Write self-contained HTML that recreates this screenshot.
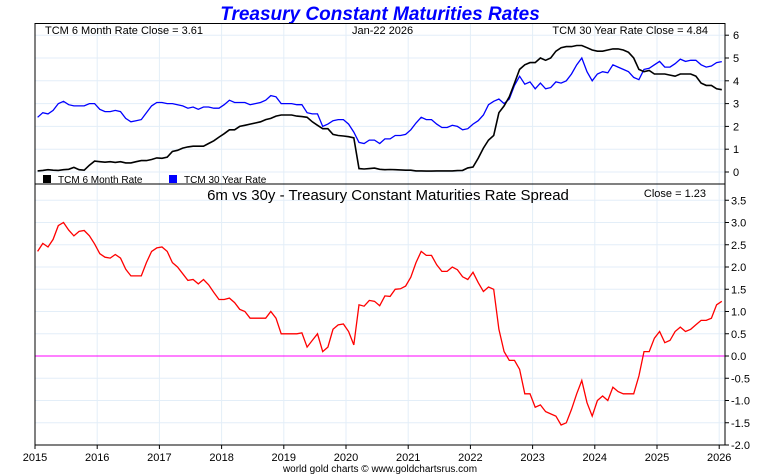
<!DOCTYPE html>
<html><head><meta charset="utf-8"><style>
body{margin:0;background:#fff;}
svg{display:block;font-family:"Liberation Sans",sans-serif;}
</style></head><body>
<svg id="c" width="760" height="475">
<text x="380" y="20" text-anchor="middle" font-size="19" font-weight="bold" font-style="italic" fill="#0000ff">Treasury Constant Maturities Rates</text>
<g id="grid"></g>
<g id="series"></g>
<rect x="35" y="23.5" width="690" height="421.5" fill="none" stroke="#000" stroke-width="1"/>
<line x1="35" y1="184" x2="725" y2="184" stroke="#000"/>
<text x="45" y="34" font-size="11">TCM 6 Month Rate Close = 3.61</text>
<text x="352" y="34" font-size="11">Jan-22  2026</text>
<text x="708" y="34" font-size="11" text-anchor="end">TCM 30 Year Rate Close = 4.84</text>
<rect x="43" y="175" width="8" height="8" fill="#000"/>
<text x="58" y="183" font-size="10">TCM 6 Month Rate</text>
<rect x="169" y="175" width="8" height="8" fill="#0000ff"/>
<text x="184" y="183" font-size="10">TCM 30 Year Rate</text>
<text x="388" y="200" font-size="15" text-anchor="middle">6m vs 30y - Treasury Constant Maturities Rate Spread</text>
<text x="706" y="197" font-size="11" text-anchor="end">Close = 1.23</text>
<text x="380" y="472" font-size="10" text-anchor="middle" fill="#000">world gold charts © www.goldchartsrus.com</text>
<g id="axes"></g>
</svg>
<script>
const years=[2015,2016,2017,2018,2019,2020,2021,2022,2023,2024,2025,2026];
const topTicks=[0,1,2,3,4,5,6];
const bottomTicks=["-2.0","-1.5","-1.0","-0.5","0.0","0.5","1.0","1.5","2.0","2.5","3.0","3.5"];
const sixMonth=[0.05,0.07,0.1,0.08,0.07,0.1,0.12,0.2,0.1,0.08,0.3,0.48,
0.45,0.43,0.45,0.42,0.45,0.4,0.4,0.45,0.5,0.5,0.55,0.62,
0.6,0.65,0.9,0.95,1.05,1.1,1.13,1.13,1.13,1.25,1.37,1.53,
1.68,1.85,1.85,2.0,2.05,2.1,2.15,2.2,2.3,2.35,2.45,2.5,
2.5,2.5,2.45,2.43,2.4,2.2,2.05,1.9,1.9,1.65,1.6,1.58,
1.55,1.5,0.15,0.13,0.15,0.17,0.12,0.1,0.11,0.1,0.09,0.08,
0.08,0.05,0.05,0.04,0.04,0.05,0.05,0.05,0.05,0.06,0.07,0.18,
0.22,0.6,1.05,1.4,1.6,2.6,2.9,3.3,3.9,4.5,4.7,4.8,
4.8,5.0,4.9,5.0,5.3,5.45,5.5,5.5,5.55,5.55,5.45,5.35,
5.3,5.3,5.35,5.4,5.4,5.35,5.25,5.0,4.5,4.4,4.45,4.3,
4.3,4.3,4.25,4.2,4.3,4.3,4.3,4.2,3.9,3.8,3.8,3.65,3.61];
const thirtyYear=[2.4,2.6,2.55,2.7,3.0,3.1,2.95,2.9,2.9,2.9,3.0,3.0,
2.75,2.65,2.65,2.7,2.65,2.35,2.2,2.25,2.3,2.6,2.9,3.05,
3.05,3.0,3.0,2.95,2.9,2.8,2.85,2.75,2.85,2.85,2.8,2.8,
2.95,3.15,3.05,3.05,3.05,2.95,3.0,3.05,3.15,3.35,3.3,3.0,
3.0,3.0,2.95,2.95,2.6,2.55,2.55,2.0,2.1,2.25,2.3,2.3,
2.1,1.75,1.3,1.25,1.4,1.4,1.25,1.45,1.45,1.6,1.6,1.65,
1.85,2.15,2.4,2.3,2.3,2.1,1.95,1.95,2.05,2.0,1.85,1.9,
2.1,2.25,2.5,2.95,3.1,3.2,3.0,3.2,3.8,4.2,3.85,3.95,
3.65,3.9,3.65,3.7,3.95,3.9,4.0,4.3,4.7,5.0,4.4,4.0,
4.3,4.4,4.35,4.7,4.6,4.5,4.4,4.15,4.05,4.5,4.55,4.7,
4.85,4.6,4.6,4.75,4.95,4.85,4.9,4.9,4.7,4.6,4.65,4.8,4.84];
const NS="http://www.w3.org/2000/svg";
const xS=t=>35+(t-2015)*62.2;
const yTop=v=>172-v*22.8;
const yBot=v=>356-v*44.5;
const tOf=i=>2015+(i+0.5)/12;
function mk(tag,attrs,parent){const e=document.createElementNS(NS,tag);for(const k in attrs)e.setAttribute(k,attrs[k]);document.getElementById(parent).appendChild(e);return e;}
years.forEach(y=>{
  const x=xS(y);
  let g=mk('line',{x1:x,y1:23.5,x2:x,y2:445,stroke:'#e3eef8'},'grid');
  
  
  let t=mk('text',{x:x,y:461,'font-size':11,'text-anchor':'middle'},'axes');
  t.textContent=y;
  
  
  let tk=mk('line',{x1:x,y1:445,x2:x,y2:449,stroke:'#000'},'axes');
  
  
});
topTicks.forEach(v=>{
  const y=yTop(v);
  let g=mk('line',{x1:35,y1:y,x2:725,y2:y,stroke:'#e3eef8'},'grid');
  
  
  let tk=mk('line',{x1:725,y1:y,x2:729,y2:y,stroke:'#000'},'axes');
  
  
  let t=mk('text',{x:733,y:y+4,'font-size':11},'axes');
  t.textContent=v;
  
  
});
bottomTicks.forEach(s=>{
  const y=yBot(parseFloat(s));
  let g=mk('line',{x1:35,y1:y,x2:725,y2:y,stroke:'#e3eef8'},'grid');
  
  
  let tk=mk('line',{x1:725,y1:y,x2:729,y2:y,stroke:'#000'},'axes');
  
  
  let t=mk('text',{x:731,y:y+4,'font-size':11},'axes');
  t.textContent=s;
  
  
});
const zero=mk('line',{x1:35,y1:yBot(0),x2:725,y2:yBot(0),stroke:'#ff00ff'},'series');


const pts=(arr,fy)=>arr.map((v,i)=>xS(tOf(i)).toFixed(1)+','+fy(v).toFixed(1)).join(' ');
let p1=mk('polyline',{points:pts(thirtyYear,yTop),fill:'none',stroke:'#0000ff','stroke-width':1.3},'series');


let p2=mk('polyline',{points:pts(sixMonth,yTop),fill:'none',stroke:'#000','stroke-width':1.6},'series');


const spread=thirtyYear.map((v,i)=>v-sixMonth[i]);
let p3=mk('polyline',{points:pts(spread,yBot),fill:'none',stroke:'#ff0000','stroke-width':1.3},'series');


</script>
</body></html>
